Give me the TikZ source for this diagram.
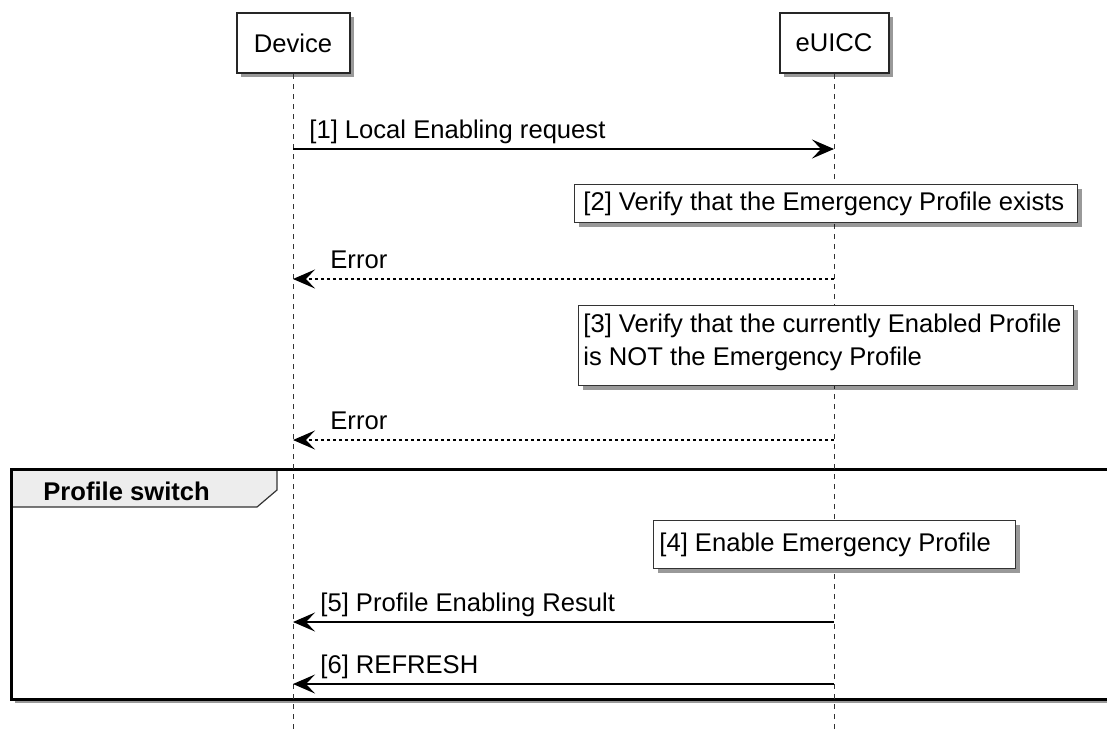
\documentclass[tikz,border=0pt]{standalone}
\usepackage{fontspec}
\setmainfont{Liberation Sans}
\usetikzlibrary{arrows.meta,shadows}
\begin{document}
\begin{tikzpicture}[x=0.5pt,y=-0.5pt,
  font=\fontsize{12.8}{16.5}\selectfont,
  shadowed/.style={drop shadow={shadow xshift=2.2pt,shadow yshift=-2.2pt,fill=black,opacity=0.4}},
  participant/.style={draw=black!85, line width=1pt, fill=white, shadowed, minimum height=30pt, inner sep=0pt},
  notebox/.style={draw=black!80, line width=0.6pt, fill=white, shadowed, anchor=north west, inner sep=0pt},
  notetext/.style={anchor=west, align=left, inner sep=0pt},
  lifeline/.style={draw=black!80, line width=0.5pt, dash pattern=on 2.5pt off 2.5pt},
  msg/.style={draw=black, line width=0.65pt, -{Stealth[length=11pt,width=9.5pt,inset=4.5pt]}},
  reply/.style={msg, dash pattern=on 1.5pt off 1.5pt},
  lbl/.style={anchor=base west, inner sep=0pt},
  frame/.style={draw=black, line width=1.5pt, fill=white, shadowed},
  tab/.style={draw=black!80, line width=0.6pt, fill=black!7},
]
\useasboundingbox (0,0) rectangle (1107,729);
\clip (0,0) rectangle (1107,729);
\fill[white] (0,0) rectangle (1107,729);

% group frame
\path[frame] (11,469) rectangle (1125,699);
\draw[tab] (11,469) -- (277,469) -- (277,490) -- (257,507) -- (11,507) -- cycle;
\draw[black, line width=1.5pt] (11,469) rectangle (1125,699);
\node[lbl, font=\fontsize{12.8}{15}\selectfont\bfseries] (grp) at (43,500) {Profile switch};

% participants
\node[participant, minimum width=56.5pt] (dev) at (293,43) {Device};
\node[participant, minimum width=54.5pt] (eu) at (834,43) {eUICC};
\coordinate (devend) at (293,729);
\coordinate (euend) at (834,729);
\draw[lifeline] (dev.south) -- (devend);
\draw[lifeline] (eu.south) -- (euend);

% notes
\node[notebox, minimum width=251.5pt, minimum height=19pt] (n2) at (574,184) {};
\node[notetext] (t2) at ([xshift=4.5pt]n2.west) {[2] Verify that the Emergency Profile exists};
\node[notebox, minimum width=247.5pt, minimum height=40pt] (n3) at (578,305) {};
\node[notetext] (t3) at ([xshift=2.5pt,yshift=1.5pt]n3.west) {[3] Verify that the currently Enabled Profile\\is NOT the Emergency Profile};
\node[notebox, minimum width=181pt, minimum height=24pt] (n4) at (653,520) {};
\node[notetext] (t4) at ([xshift=3pt]n4.west) {[4] Enable Emergency Profile};

% message points
\coordinate (d1) at (293,149); \coordinate (e1) at (834,149);
\coordinate (d2) at (293,279); \coordinate (e2) at (834,279);
\coordinate (d3) at (293,440); \coordinate (e3) at (834,440);
\coordinate (d5) at (293,622); \coordinate (e5) at (834,622);
\coordinate (d6) at (293,684); \coordinate (e6) at (834,684);

\draw[msg] (d1) -- (e1);
\node[lbl] (l1) at (309,138) {[1] Local Enabling request};
\draw[reply] (e2) -- (d2);
\node[lbl] (l2) at (330,268) {Error};
\draw[reply] (e3) -- (d3);
\node[lbl] (l3) at (330,429) {Error};
\draw[msg] (e5) -- (d5);
\node[lbl] (l5) at (320,611) {[5] Profile Enabling Result};
\draw[msg] (e6) -- (d6);
\node[lbl] (l6) at (320,673) {[6] REFRESH};
\end{tikzpicture}
\end{document}
